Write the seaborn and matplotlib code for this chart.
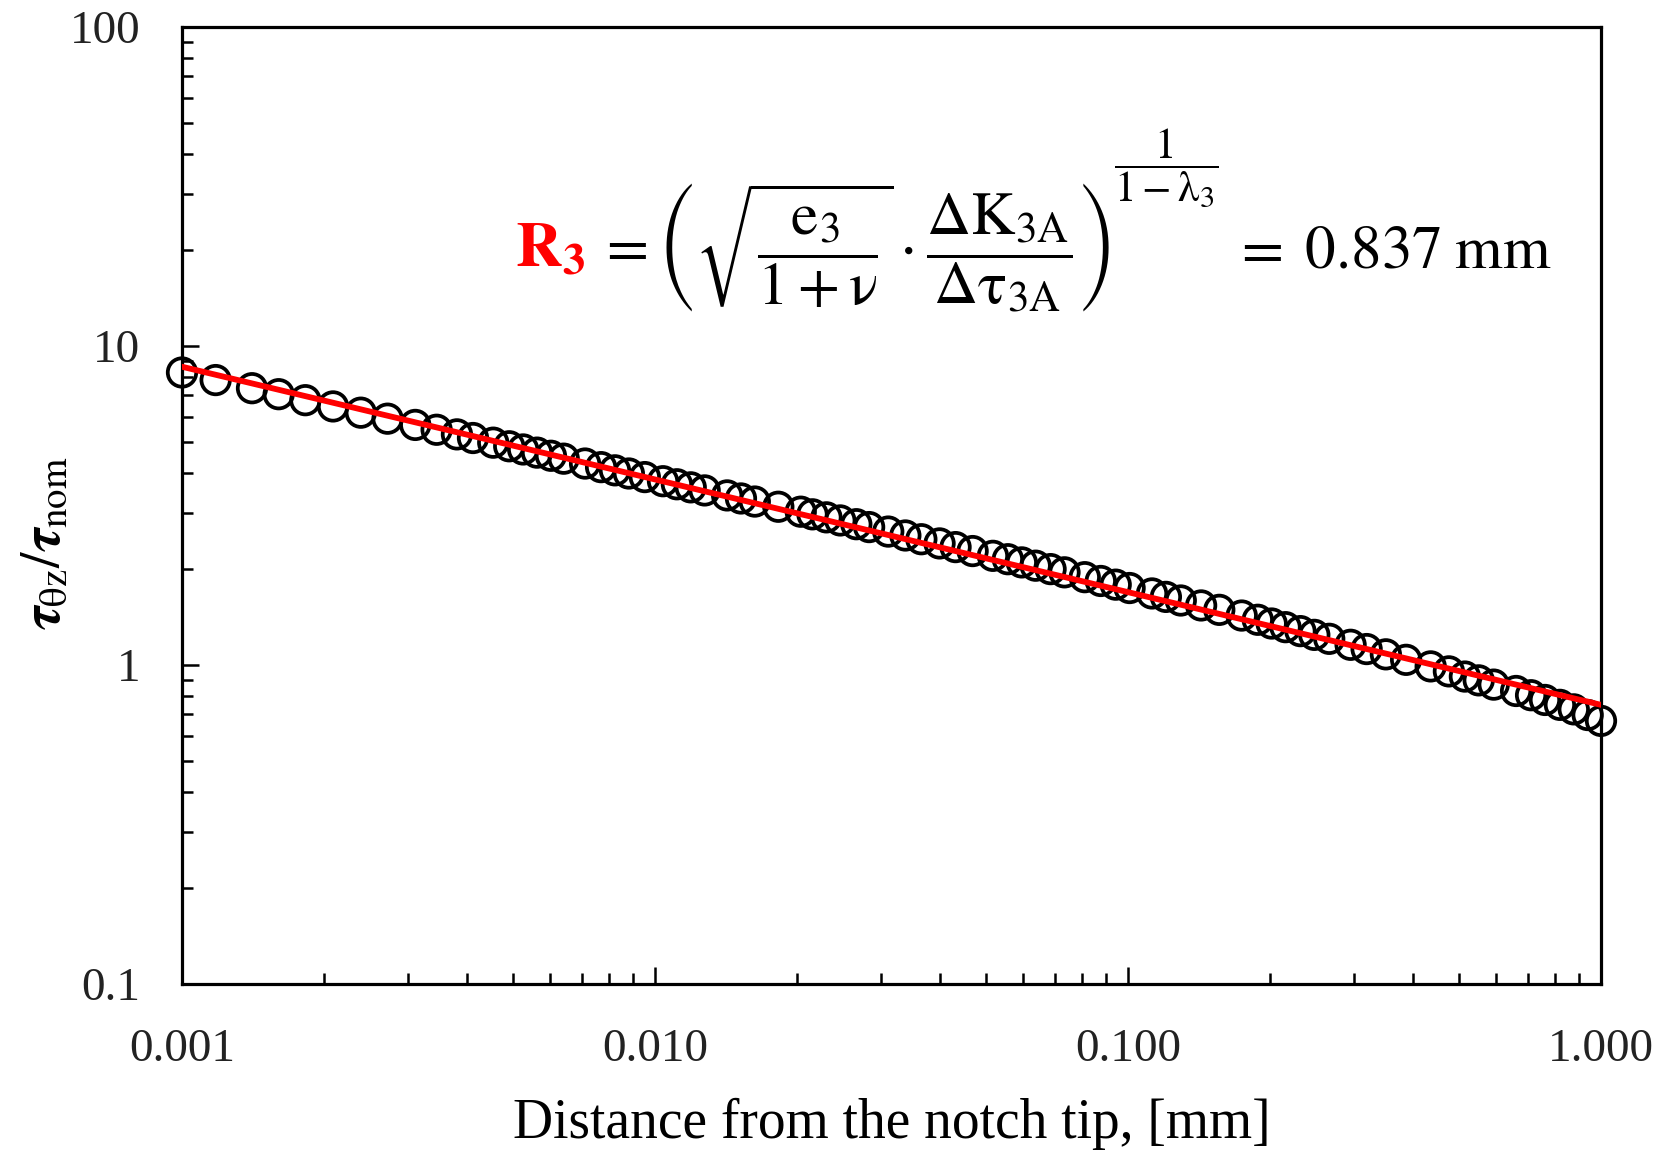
import matplotlib
matplotlib.use("Agg")
import matplotlib.pyplot as plt
from matplotlib.ticker import FixedLocator, FixedFormatter, LogLocator, NullFormatter
import numpy as np
import pandas as pd
import seaborn as sns

# FE results: shear stress ratio along the notch bisector
distance_mm = [
    0.001000, 0.001178, 0.001406, 0.001601, 0.001823, 0.002086, 0.002388, 0.002720,
    0.003113, 0.003454, 0.003813, 0.004123, 0.004550, 0.004918, 0.005263, 0.005631,
    0.006025, 0.006412, 0.007114, 0.007691, 0.008229, 0.008805, 0.009517, 0.010397,
    0.011124, 0.011900, 0.012735, 0.014207, 0.015197, 0.016255, 0.018227, 0.020330,
    0.021524, 0.023035, 0.024643, 0.026645, 0.028359, 0.031124, 0.033829, 0.036570,
    0.039956, 0.043194, 0.046933, 0.051808, 0.055719, 0.059621, 0.063783, 0.068600,
    0.073400, 0.081021, 0.087579, 0.094189, 0.10078, 0.11240, 0.12026, 0.12930,
    0.14276, 0.15596, 0.17394, 0.18808, 0.20122, 0.21528, 0.23147, 0.24767,
    0.26635, 0.29553, 0.31951, 0.35089, 0.38726, 0.43641, 0.47688, 0.51547,
    0.55140, 0.59320, 0.66145, 0.71145, 0.76119, 0.81865, 0.87585, 0.93713, 1.000,
]
stress_ratio = [
    8.26, 7.82, 7.374, 7.062, 6.763, 6.465, 6.180, 5.918,
    5.657, 5.463, 5.284, 5.147, 4.977, 4.849, 4.739, 4.632,
    4.528, 4.434, 4.281, 4.171, 4.076, 3.984, 3.882, 3.768,
    3.686, 3.605, 3.526, 3.401, 3.327, 3.254, 3.134, 3.024,
    2.967, 2.903, 2.839, 2.763, 2.706, 2.620, 2.547, 2.479,
    2.405, 2.342, 2.276, 2.199, 2.146, 2.097, 2.048, 1.998,
    1.952, 1.885, 1.834, 1.786, 1.743, 1.676, 1.635, 1.593,
    1.537, 1.489, 1.429, 1.386, 1.349, 1.314, 1.277, 1.243,
    1.208, 1.157, 1.122, 1.080, 1.038, 0.990, 0.955, 0.920,
    0.895, 0.868, 0.829, 0.804, 0.777, 0.750, 0.726, 0.697, 0.668,
]

# Power-law fit (straight line in log-log space)
fit_distance_mm = [0.001, 1.0]
fit_stress_ratio = [8.61, 0.75]

x_tick_values = [0.001, 0.01, 0.1, 1.0]
x_tick_labels = ["0.001", "0.010", "0.100", "1.000"]
y_tick_values = [0.1, 1, 10, 100]
y_tick_labels = ["0.1", "1", "10", "100"]

sns.set_theme(style="white")
plt.rcParams["font.family"] = ["Liberation Serif", "DejaVu Serif"]
plt.rcParams["mathtext.fontset"] = "stix"

W, H = 1674, 1152
fig = plt.figure(figsize=(W / 100, H / 100), dpi=100)
fig.patch.set_facecolor("white")
ax = fig.add_axes([182 / W, 1 - 984 / H, (1601 - 182) / W, (984 - 27) / H])
ax.set_facecolor("white")
ax.set_xscale("log")
ax.set_yscale("log")

df = pd.DataFrame({"distance": distance_mm, "ratio": stress_ratio})
sns.scatterplot(data=df, x="distance", y="ratio", ax=ax, marker="o", s=420,
                facecolors="none", edgecolor="black", linewidth=2.7,
                clip_on=False, zorder=3)
sns.lineplot(x=fit_distance_mm, y=fit_stress_ratio, ax=ax, color="red",
             linewidth=4.2, zorder=4)

ax.set_xlim(0.001, 1.0)
ax.set_ylim(0.1, 100)

for side in ["left", "right", "top", "bottom"]:
    ax.spines[side].set_visible(True)
    ax.spines[side].set_color("black")
    ax.spines[side].set_linewidth(2.3)

ax.xaxis.set_major_locator(FixedLocator(x_tick_values))
ax.xaxis.set_major_formatter(FixedFormatter(x_tick_labels))
ax.yaxis.set_major_locator(FixedLocator(y_tick_values))
ax.yaxis.set_major_formatter(FixedFormatter(y_tick_labels))
ax.xaxis.set_minor_locator(LogLocator(base=10, subs=np.arange(2, 10), numticks=20))
ax.yaxis.set_minor_locator(LogLocator(base=10, subs=np.arange(2, 10), numticks=20))
ax.xaxis.set_minor_formatter(NullFormatter())
ax.yaxis.set_minor_formatter(NullFormatter())

ax.tick_params(which="both", direction="in", top=False, right=False,
               bottom=True, left=True, color="black", width=1.8)
ax.tick_params(which="major", length=12)
ax.tick_params(which="minor", length=8)
ax.tick_params(axis="x", which="major", labelsize=34, pad=32, labelcolor="#222222")
ax.tick_params(axis="y", which="major", labelsize=34, pad=30, labelcolor="#222222")

ax.set_xlabel("Distance from the notch tip, [mm]", fontsize=40, color="black", va="center")
ax.xaxis.set_label_coords(0.5, -0.146)
ax.set_ylabel(r"$\boldsymbol{\tau}_{\mathrm{\theta z}}/\boldsymbol{\tau}_{\mathrm{nom}}$",
              fontsize=40, color="black", va="center")
ax.yaxis.set_label_coords(-0.096, 0.46)

# Characteristic length formula, assembled piece by piece
base_y = 0.749
inv = ax.transAxes.inverted()


def right_edge(artist, gap_px=0.0):
    fig.canvas.draw()
    bb = artist.get_window_extent()
    return inv.transform((bb.x1 + gap_px, bb.y0))[0]


r3 = ax.text(0.235, base_y, r"$\mathbf{R_3}$", color="red", fontsize=46,
             transform=ax.transAxes, ha="left", va="baseline")
body = ax.text(right_edge(r3), base_y,
               r"$\;=\left(\sqrt{\dfrac{\mathrm{e}_3}{1+\mathrm{\nu}}}\cdot"
               r"\dfrac{\Delta\mathrm{K}_{3\mathrm{A}}}{\Delta\mathrm{\tau}_{3\mathrm{A}}}\right)$",
               color="black", fontsize=44, transform=ax.transAxes,
               ha="left", va="baseline")
expo = ax.text(right_edge(body, 4), 0.853,
               r"$\dfrac{1}{1-\mathrm{\lambda}_3}$",
               color="black", fontsize=31, transform=ax.transAxes,
               ha="left", va="center")
ax.text(right_edge(expo, 14), base_y, r"$=\;0.837\;\mathrm{mm}$",
        color="black", fontsize=44, transform=ax.transAxes,
        ha="left", va="baseline")

fig.savefig("out.png", dpi=100, facecolor="white")
